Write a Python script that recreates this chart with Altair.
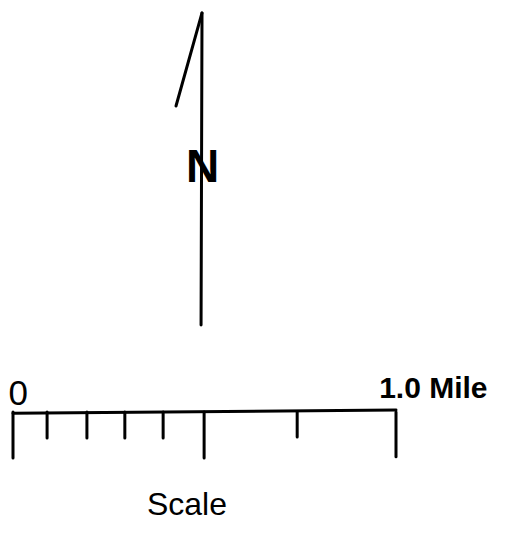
import altair as alt
import pandas as pd

# Scale bar (units: miles)
tick_pos = [0.0, 0.089, 0.193, 0.292, 0.392, 0.499, 0.742, 1.0]
tick_len = [0.120, 0.068, 0.068, 0.068, 0.068, 0.120, 0.065, 0.117]
bar_x = [0.0, 1.0]
bar_y = [-0.003, 0.005]

# North arrow (same units)
shaft_x = [0.4935, 0.491]
shaft_y = [1.042, 0.227]
barb_x = [0.4935, 0.4256]
barb_y = [1.042, 0.799]

labels = ["0", "1.0 Mile", "Scale", "N"]
label_x = [-0.012, 0.956, 0.4543, 0.4948]
label_y = [0.0183, 0.0366, -0.2689, 0.6005]

segs = [dict(x=bar_x[0], y=bar_y[0], x2=bar_x[1], y2=bar_y[1])]
for p, l in zip(tick_pos, tick_len):
    segs.append(dict(x=p, y=0.0, x2=p, y2=-l))
segs.append(dict(x=shaft_x[0], y=shaft_y[0], x2=shaft_x[1], y2=shaft_y[1]))
segs.append(dict(x=barb_x[0], y=barb_y[0], x2=barb_x[1], y2=barb_y[1]))
seg_df = pd.DataFrame(segs)

lab_df = pd.DataFrame({"t": labels, "x": label_x, "y": label_y})

xs = alt.Scale(domain=[-5 / 383, 485 / 383], nice=False, zero=False)
ys = alt.Scale(domain=[-117 / 383, 404 / 383], nice=False, zero=False)

rules = alt.Chart(seg_df).mark_rule(color="black", strokeWidth=3, strokeCap="round").encode(
    x=alt.X("x:Q", scale=xs, axis=None),
    y=alt.Y("y:Q", scale=ys, axis=None),
    x2="x2:Q",
    y2="y2:Q",
)

def txt(label, **kw):
    return alt.Chart(lab_df[lab_df.t == label]).mark_text(
        color="black", font="Liberation Sans", baseline="alphabetic", **kw
    ).encode(
        x=alt.X("x:Q", scale=xs, axis=None),
        y=alt.Y("y:Q", scale=ys, axis=None),
        text="t:N",
    )

t0 = txt("0", fontSize=35, align="left")
tmile = txt("1.0 Mile", fontSize=30, fontWeight="bold", align="left")
tscale = txt("Scale", fontSize=32, align="center")
tn = txt("N", fontSize=46, fontWeight="bold", align="center")

chart = alt.layer(rules, t0, tmile, tscale, tn).properties(
    width=490, height=521, padding=0, autosize=alt.AutoSizeParams(type="none"),
    background="white",
).configure_view(stroke=None)

chart.save("out.html", embed_options={"renderer": "svg", "actions": False})
